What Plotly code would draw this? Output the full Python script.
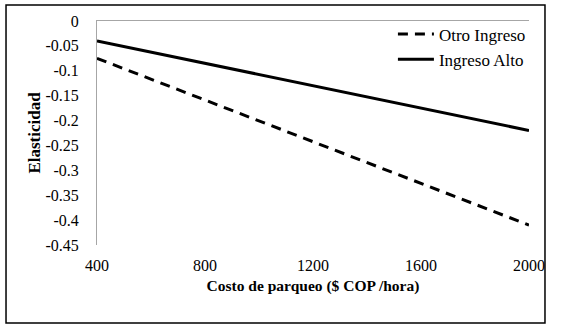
import plotly.graph_objects as go

costo = [400, 800, 1200, 1600, 2000]
otro_ingreso = [-0.075, -0.159, -0.242, -0.326, -0.41]
ingreso_alto = [-0.040, -0.085, -0.130, -0.175, -0.220]
x_ticks = [400, 800, 1200, 1600, 2000]
y_ticks = [0, -0.05, -0.1, -0.15, -0.2, -0.25, -0.3, -0.35, -0.4, -0.45]
y_labels = ["0", "-0.05", "-0.1", "-0.15", "-0.2", "-0.25", "-0.3", "-0.35", "-0.4", "-0.45"]

FONT = "Liberation Serif, Times New Roman, serif"
TF = dict(family=FONT, size=16, color="black")

fig = go.Figure()
fig.add_trace(go.Scatter(x=costo, y=otro_ingreso, mode="lines", name="Otro Ingreso",
                         line=dict(color="black", width=3, dash="10px,7px")))
fig.add_trace(go.Scatter(x=costo, y=ingreso_alto, mode="lines", name="Ingreso Alto",
                         line=dict(color="black", width=3)))
# invisible trace to anchor top axis line
fig.add_trace(go.Scatter(x=costo, y=ingreso_alto, xaxis="x2", mode="lines",
                         line=dict(color="rgba(0,0,0,0)"), showlegend=False, hoverinfo="skip"))

fig.update_layout(
    width=581, height=327,
    margin=dict(l=97, r=52, t=21, b=82),
    paper_bgcolor="white", plot_bgcolor="white",
    font=TF,
    showlegend=True,
    legend=dict(x=0.685, y=1.02, xanchor="left", yanchor="top",
                bgcolor="rgba(0,0,0,0)", font=dict(family=FONT, size=17, color="black"),
                itemwidth=36, tracegroupgap=0),
    xaxis=dict(range=[400, 2000], tickvals=x_ticks, ticktext=[str(v) for v in x_ticks],
               showgrid=False, zeroline=False, showline=False, ticks="",
               ticklabelstandoff=9, tickfont=TF,
               title=dict(text="<b>Costo de parqueo ($ COP /hora)</b>", standoff=7,
                          font=dict(family=FONT, size=15.5, color="black"))),
    xaxis2=dict(range=[400, 2000], overlaying="x", side="top", showline=True,
                linecolor="#a6a6a6", linewidth=1, showticklabels=False, ticks="",
                showgrid=False, zeroline=False),
    yaxis=dict(range=[-0.45, 0], tickvals=y_ticks, ticktext=y_labels,
               showgrid=False, zeroline=False, showline=True, linecolor="#a6a6a6",
               linewidth=1, ticks="", ticklabelstandoff=14, tickfont=TF,
               title=dict(text="<b>Elasticidad</b>", standoff=0,
                          font=dict(family=FONT, size=17, color="black"))),
    shapes=[dict(type="rect", xref="paper", yref="paper",
                 x0=-0.2106, x1=1.037, y0=-0.348, y1=1.071,
                 line=dict(color="black", width=1.5), fillcolor="rgba(0,0,0,0)")],
)

fig.write_html("out.html", config={"displayModeBar": False},
               post_script="document.body.style.margin='0';")
